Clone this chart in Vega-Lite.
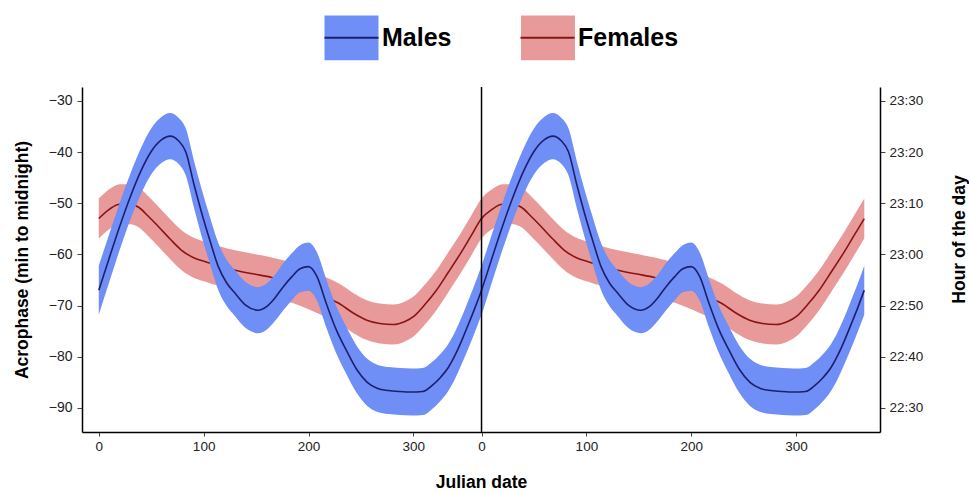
{
  "$schema": "https://vega.github.io/schema/vega-lite/v6.json",
  "width": 798,
  "height": 345,
  "autosize": {"type": "none"},
  "padding": {"left": 82, "top": 87, "right": 89, "bottom": 60},
  "background": "white",
  "config": {
    "view": {"stroke": null},
    "font": "Liberation Sans",
    "axis": {"grid": false, "domainColor": "black", "domainWidth": 1.5, "tickColor": "#444", "labelColor": "#222", "labelFont": "Liberation Sans", "titleFont": "Liberation Sans", "titleFontWeight": "bold", "titleFontSize": 17.5, "titleColor": "black"}
  },
  "datasets": {
    "curves": [
      {"sex": "Males", "series": "Males", "day": 0, "fit": -67.0, "lo": -71.8, "hi": -62.2},
      {"sex": "Males", "series": "Males", "day": 10, "fit": -60.7, "lo": -65.4, "hi": -56.0},
      {"sex": "Males", "series": "Males", "day": 20, "fit": -54.5, "lo": -59.1, "hi": -49.9},
      {"sex": "Males", "series": "Males", "day": 30, "fit": -48.8, "lo": -53.3, "hi": -44.3},
      {"sex": "Males", "series": "Males", "day": 40, "fit": -43.8, "lo": -48.3, "hi": -39.3},
      {"sex": "Males", "series": "Males", "day": 50, "fit": -39.9, "lo": -44.4, "hi": -35.4},
      {"sex": "Males", "series": "Males", "day": 60, "fit": -37.6, "lo": -42.1, "hi": -33.1},
      {"sex": "Males", "series": "Males", "day": 68, "fit": -36.9, "lo": -41.4, "hi": -32.4},
      {"sex": "Males", "series": "Males", "day": 76, "fit": -37.8, "lo": -42.3, "hi": -33.3},
      {"sex": "Males", "series": "Males", "day": 83, "fit": -40.0, "lo": -44.6, "hi": -35.4},
      {"sex": "Males", "series": "Males", "day": 91, "fit": -46.5, "lo": -51.1, "hi": -41.9},
      {"sex": "Males", "series": "Males", "day": 98, "fit": -51.8, "lo": -56.4, "hi": -47.2},
      {"sex": "Males", "series": "Males", "day": 106, "fit": -57.3, "lo": -61.9, "hi": -52.7},
      {"sex": "Males", "series": "Males", "day": 114, "fit": -62.4, "lo": -67.0, "hi": -57.8},
      {"sex": "Males", "series": "Males", "day": 122, "fit": -65.6, "lo": -70.1, "hi": -61.1},
      {"sex": "Males", "series": "Males", "day": 130, "fit": -67.6, "lo": -72.1, "hi": -63.1},
      {"sex": "Males", "series": "Males", "day": 140, "fit": -69.9, "lo": -74.4, "hi": -65.4},
      {"sex": "Males", "series": "Males", "day": 152, "fit": -70.9, "lo": -75.4, "hi": -66.4},
      {"sex": "Males", "series": "Males", "day": 160, "fit": -70.2, "lo": -74.7, "hi": -65.7},
      {"sex": "Males", "series": "Males", "day": 168, "fit": -68.5, "lo": -73.0, "hi": -64.0},
      {"sex": "Males", "series": "Males", "day": 176, "fit": -66.3, "lo": -70.9, "hi": -61.7},
      {"sex": "Males", "series": "Males", "day": 184, "fit": -64.4, "lo": -69.0, "hi": -59.8},
      {"sex": "Males", "series": "Males", "day": 192, "fit": -62.8, "lo": -67.4, "hi": -58.2},
      {"sex": "Males", "series": "Males", "day": 200, "fit": -62.4, "lo": -67.1, "hi": -57.7},
      {"sex": "Males", "series": "Males", "day": 208, "fit": -64.3, "lo": -69.0, "hi": -59.6},
      {"sex": "Males", "series": "Males", "day": 217, "fit": -69.6, "lo": -74.3, "hi": -64.9},
      {"sex": "Males", "series": "Males", "day": 226, "fit": -74.5, "lo": -79.1, "hi": -69.9},
      {"sex": "Males", "series": "Males", "day": 236, "fit": -78.7, "lo": -83.3, "hi": -74.1},
      {"sex": "Males", "series": "Males", "day": 246, "fit": -82.5, "lo": -87.1, "hi": -77.9},
      {"sex": "Males", "series": "Males", "day": 256, "fit": -85.0, "lo": -89.6, "hi": -80.4},
      {"sex": "Males", "series": "Males", "day": 266, "fit": -86.2, "lo": -90.8, "hi": -81.6},
      {"sex": "Males", "series": "Males", "day": 276, "fit": -86.6, "lo": -91.2, "hi": -82.0},
      {"sex": "Males", "series": "Males", "day": 287, "fit": -86.8, "lo": -91.4, "hi": -82.2},
      {"sex": "Males", "series": "Males", "day": 298, "fit": -86.9, "lo": -91.5, "hi": -82.3},
      {"sex": "Males", "series": "Males", "day": 309, "fit": -86.8, "lo": -91.4, "hi": -82.2},
      {"sex": "Males", "series": "Males", "day": 318, "fit": -85.6, "lo": -90.2, "hi": -81.0},
      {"sex": "Males", "series": "Males", "day": 326, "fit": -84.0, "lo": -88.6, "hi": -79.4},
      {"sex": "Males", "series": "Males", "day": 333, "fit": -82.2, "lo": -86.8, "hi": -77.6},
      {"sex": "Males", "series": "Males", "day": 340, "fit": -79.6, "lo": -84.2, "hi": -75.0},
      {"sex": "Males", "series": "Males", "day": 347, "fit": -76.4, "lo": -81.0, "hi": -71.8},
      {"sex": "Males", "series": "Males", "day": 353, "fit": -73.4, "lo": -78.1, "hi": -68.7},
      {"sex": "Males", "series": "Males", "day": 359, "fit": -70.3, "lo": -75.0, "hi": -65.6},
      {"sex": "Males", "series": "Males", "day": 365, "fit": -67.0, "lo": -71.8, "hi": -62.2},
      {"sex": "Males", "series": "Males", "day": 375, "fit": -60.7, "lo": -65.4, "hi": -56.0},
      {"sex": "Males", "series": "Males", "day": 385, "fit": -54.5, "lo": -59.1, "hi": -49.9},
      {"sex": "Males", "series": "Males", "day": 395, "fit": -48.8, "lo": -53.3, "hi": -44.3},
      {"sex": "Males", "series": "Males", "day": 405, "fit": -43.8, "lo": -48.3, "hi": -39.3},
      {"sex": "Males", "series": "Males", "day": 415, "fit": -39.9, "lo": -44.4, "hi": -35.4},
      {"sex": "Males", "series": "Males", "day": 425, "fit": -37.6, "lo": -42.1, "hi": -33.1},
      {"sex": "Males", "series": "Males", "day": 433, "fit": -36.9, "lo": -41.4, "hi": -32.4},
      {"sex": "Males", "series": "Males", "day": 441, "fit": -37.8, "lo": -42.3, "hi": -33.3},
      {"sex": "Males", "series": "Males", "day": 448, "fit": -40.0, "lo": -44.6, "hi": -35.4},
      {"sex": "Males", "series": "Males", "day": 456, "fit": -46.5, "lo": -51.1, "hi": -41.9},
      {"sex": "Males", "series": "Males", "day": 463, "fit": -51.8, "lo": -56.4, "hi": -47.2},
      {"sex": "Males", "series": "Males", "day": 471, "fit": -57.3, "lo": -61.9, "hi": -52.7},
      {"sex": "Males", "series": "Males", "day": 479, "fit": -62.4, "lo": -67.0, "hi": -57.8},
      {"sex": "Males", "series": "Males", "day": 487, "fit": -65.6, "lo": -70.1, "hi": -61.1},
      {"sex": "Males", "series": "Males", "day": 495, "fit": -67.6, "lo": -72.1, "hi": -63.1},
      {"sex": "Males", "series": "Males", "day": 505, "fit": -69.9, "lo": -74.4, "hi": -65.4},
      {"sex": "Males", "series": "Males", "day": 517, "fit": -70.9, "lo": -75.4, "hi": -66.4},
      {"sex": "Males", "series": "Males", "day": 525, "fit": -70.2, "lo": -74.7, "hi": -65.7},
      {"sex": "Males", "series": "Males", "day": 533, "fit": -68.5, "lo": -73.0, "hi": -64.0},
      {"sex": "Males", "series": "Males", "day": 541, "fit": -66.3, "lo": -70.9, "hi": -61.7},
      {"sex": "Males", "series": "Males", "day": 549, "fit": -64.4, "lo": -69.0, "hi": -59.8},
      {"sex": "Males", "series": "Males", "day": 557, "fit": -62.8, "lo": -67.4, "hi": -58.2},
      {"sex": "Males", "series": "Males", "day": 565, "fit": -62.4, "lo": -67.1, "hi": -57.7},
      {"sex": "Males", "series": "Males", "day": 573, "fit": -64.3, "lo": -69.0, "hi": -59.6},
      {"sex": "Males", "series": "Males", "day": 582, "fit": -69.6, "lo": -74.3, "hi": -64.9},
      {"sex": "Males", "series": "Males", "day": 591, "fit": -74.5, "lo": -79.1, "hi": -69.9},
      {"sex": "Males", "series": "Males", "day": 601, "fit": -78.7, "lo": -83.3, "hi": -74.1},
      {"sex": "Males", "series": "Males", "day": 611, "fit": -82.5, "lo": -87.1, "hi": -77.9},
      {"sex": "Males", "series": "Males", "day": 621, "fit": -85.0, "lo": -89.6, "hi": -80.4},
      {"sex": "Males", "series": "Males", "day": 631, "fit": -86.2, "lo": -90.8, "hi": -81.6},
      {"sex": "Males", "series": "Males", "day": 641, "fit": -86.6, "lo": -91.2, "hi": -82.0},
      {"sex": "Males", "series": "Males", "day": 652, "fit": -86.8, "lo": -91.4, "hi": -82.2},
      {"sex": "Males", "series": "Males", "day": 663, "fit": -86.9, "lo": -91.5, "hi": -82.3},
      {"sex": "Males", "series": "Males", "day": 674, "fit": -86.8, "lo": -91.4, "hi": -82.2},
      {"sex": "Males", "series": "Males", "day": 683, "fit": -85.6, "lo": -90.2, "hi": -81.0},
      {"sex": "Males", "series": "Males", "day": 691, "fit": -84.0, "lo": -88.6, "hi": -79.4},
      {"sex": "Males", "series": "Males", "day": 698, "fit": -82.2, "lo": -86.8, "hi": -77.6},
      {"sex": "Males", "series": "Males", "day": 705, "fit": -79.6, "lo": -84.2, "hi": -75.0},
      {"sex": "Males", "series": "Males", "day": 712, "fit": -76.4, "lo": -81.0, "hi": -71.8},
      {"sex": "Males", "series": "Males", "day": 718, "fit": -73.4, "lo": -78.1, "hi": -68.7},
      {"sex": "Males", "series": "Males", "day": 724, "fit": -70.3, "lo": -75.0, "hi": -65.6},
      {"sex": "Males", "series": "Males", "day": 730, "fit": -67.0, "lo": -71.8, "hi": -62.2},

      {"sex": "Females", "series": "Females", "day": 0, "fit": -53.0, "lo": -56.9, "hi": -49.1},
      {"sex": "Females", "series": "Females", "day": 10, "fit": -51.2, "lo": -55.1, "hi": -47.3},
      {"sex": "Females", "series": "Females", "day": 20, "fit": -50.2, "lo": -54.1, "hi": -46.3},
      {"sex": "Females", "series": "Females", "day": 30, "fit": -50.2, "lo": -54.1, "hi": -46.3},
      {"sex": "Females", "series": "Females", "day": 38, "fit": -50.8, "lo": -54.7, "hi": -46.9},
      {"sex": "Females", "series": "Females", "day": 47, "fit": -52.5, "lo": -56.4, "hi": -48.6},
      {"sex": "Females", "series": "Females", "day": 57, "fit": -54.6, "lo": -58.5, "hi": -50.7},
      {"sex": "Females", "series": "Females", "day": 68, "fit": -57.0, "lo": -60.9, "hi": -53.1},
      {"sex": "Females", "series": "Females", "day": 79, "fit": -59.2, "lo": -63.1, "hi": -55.3},
      {"sex": "Females", "series": "Females", "day": 90, "fit": -60.6, "lo": -64.5, "hi": -56.7},
      {"sex": "Females", "series": "Females", "day": 101, "fit": -61.4, "lo": -65.3, "hi": -57.5},
      {"sex": "Females", "series": "Females", "day": 115, "fit": -62.3, "lo": -66.2, "hi": -58.4},
      {"sex": "Females", "series": "Females", "day": 130, "fit": -63.1, "lo": -67.0, "hi": -59.2},
      {"sex": "Females", "series": "Females", "day": 147, "fit": -63.8, "lo": -67.7, "hi": -59.9},
      {"sex": "Females", "series": "Females", "day": 165, "fit": -64.5, "lo": -68.4, "hi": -60.6},
      {"sex": "Females", "series": "Females", "day": 185, "fit": -65.6, "lo": -69.5, "hi": -61.7},
      {"sex": "Females", "series": "Females", "day": 200, "fit": -66.8, "lo": -70.7, "hi": -62.9},
      {"sex": "Females", "series": "Females", "day": 215, "fit": -68.2, "lo": -72.1, "hi": -64.3},
      {"sex": "Females", "series": "Females", "day": 230, "fit": -69.7, "lo": -73.6, "hi": -65.8},
      {"sex": "Females", "series": "Females", "day": 243, "fit": -71.5, "lo": -75.4, "hi": -67.6},
      {"sex": "Females", "series": "Females", "day": 255, "fit": -72.8, "lo": -76.7, "hi": -68.9},
      {"sex": "Females", "series": "Females", "day": 268, "fit": -73.5, "lo": -77.4, "hi": -69.6},
      {"sex": "Females", "series": "Females", "day": 281, "fit": -73.7, "lo": -77.6, "hi": -69.8},
      {"sex": "Females", "series": "Females", "day": 292, "fit": -73.1, "lo": -77.0, "hi": -69.2},
      {"sex": "Females", "series": "Females", "day": 301, "fit": -72.0, "lo": -75.9, "hi": -68.1},
      {"sex": "Females", "series": "Females", "day": 311, "fit": -69.8, "lo": -73.7, "hi": -65.9},
      {"sex": "Females", "series": "Females", "day": 322, "fit": -67.0, "lo": -70.9, "hi": -63.1},
      {"sex": "Females", "series": "Females", "day": 333, "fit": -63.6, "lo": -67.5, "hi": -59.7},
      {"sex": "Females", "series": "Females", "day": 345, "fit": -59.8, "lo": -63.7, "hi": -55.9},
      {"sex": "Females", "series": "Females", "day": 355, "fit": -56.4, "lo": -60.3, "hi": -52.5},
      {"sex": "Females", "series": "Females", "day": 365, "fit": -53.0, "lo": -56.9, "hi": -49.1},
      {"sex": "Females", "series": "Females", "day": 375, "fit": -51.2, "lo": -55.1, "hi": -47.3},
      {"sex": "Females", "series": "Females", "day": 385, "fit": -50.2, "lo": -54.1, "hi": -46.3},
      {"sex": "Females", "series": "Females", "day": 395, "fit": -50.2, "lo": -54.1, "hi": -46.3},
      {"sex": "Females", "series": "Females", "day": 403, "fit": -50.8, "lo": -54.7, "hi": -46.9},
      {"sex": "Females", "series": "Females", "day": 412, "fit": -52.5, "lo": -56.4, "hi": -48.6},
      {"sex": "Females", "series": "Females", "day": 422, "fit": -54.6, "lo": -58.5, "hi": -50.7},
      {"sex": "Females", "series": "Females", "day": 433, "fit": -57.0, "lo": -60.9, "hi": -53.1},
      {"sex": "Females", "series": "Females", "day": 444, "fit": -59.2, "lo": -63.1, "hi": -55.3},
      {"sex": "Females", "series": "Females", "day": 455, "fit": -60.6, "lo": -64.5, "hi": -56.7},
      {"sex": "Females", "series": "Females", "day": 466, "fit": -61.4, "lo": -65.3, "hi": -57.5},
      {"sex": "Females", "series": "Females", "day": 480, "fit": -62.3, "lo": -66.2, "hi": -58.4},
      {"sex": "Females", "series": "Females", "day": 495, "fit": -63.1, "lo": -67.0, "hi": -59.2},
      {"sex": "Females", "series": "Females", "day": 512, "fit": -63.8, "lo": -67.7, "hi": -59.9},
      {"sex": "Females", "series": "Females", "day": 530, "fit": -64.5, "lo": -68.4, "hi": -60.6},
      {"sex": "Females", "series": "Females", "day": 550, "fit": -65.6, "lo": -69.5, "hi": -61.7},
      {"sex": "Females", "series": "Females", "day": 565, "fit": -66.8, "lo": -70.7, "hi": -62.9},
      {"sex": "Females", "series": "Females", "day": 580, "fit": -68.2, "lo": -72.1, "hi": -64.3},
      {"sex": "Females", "series": "Females", "day": 595, "fit": -69.7, "lo": -73.6, "hi": -65.8},
      {"sex": "Females", "series": "Females", "day": 608, "fit": -71.5, "lo": -75.4, "hi": -67.6},
      {"sex": "Females", "series": "Females", "day": 620, "fit": -72.8, "lo": -76.7, "hi": -68.9},
      {"sex": "Females", "series": "Females", "day": 633, "fit": -73.5, "lo": -77.4, "hi": -69.6},
      {"sex": "Females", "series": "Females", "day": 646, "fit": -73.7, "lo": -77.6, "hi": -69.8},
      {"sex": "Females", "series": "Females", "day": 657, "fit": -73.1, "lo": -77.0, "hi": -69.2},
      {"sex": "Females", "series": "Females", "day": 666, "fit": -72.0, "lo": -75.9, "hi": -68.1},
      {"sex": "Females", "series": "Females", "day": 676, "fit": -69.8, "lo": -73.7, "hi": -65.9},
      {"sex": "Females", "series": "Females", "day": 687, "fit": -67.0, "lo": -70.9, "hi": -63.1},
      {"sex": "Females", "series": "Females", "day": 698, "fit": -63.6, "lo": -67.5, "hi": -59.7},
      {"sex": "Females", "series": "Females", "day": 710, "fit": -59.8, "lo": -63.7, "hi": -55.9},
      {"sex": "Females", "series": "Females", "day": 720, "fit": -56.4, "lo": -60.3, "hi": -52.5},
      {"sex": "Females", "series": "Females", "day": 730, "fit": -53.0, "lo": -56.9, "hi": -49.1}
    ],
    "divider": [{"day": 365}]
  },
  "data": {"name": "curves"},
  "encoding": {
    "x": {
      "field": "day", "type": "quantitative",
      "scale": {"domain": [-16, 745], "nice": false, "zero": false},
      "axis": {"title": "Julian date", "values": [0, 100, 200, 300, 365, 465, 565, 665], "labelExpr": "datum.value % 365", "labelFontSize": 13.5, "tickSize": 4, "labelPadding": 3, "titlePadding": 21}
    }
  },
  "layer": [
    {
      "encoding": {
        "y": {
          "type": "quantitative",
          "scale": {"domain": [-94.7, -27.3], "nice": false, "zero": false},
          "axis": {"orient": "left", "title": "Acrophase (min to midnight)", "values": [-90, -80, -70, -60, -50, -40, -30], "labelFontSize": 14, "tickSize": 5, "labelPadding": 5, "titlePadding": 17}
        }
      },
      "layer": [
        {
          "transform": [{"filter": "datum.sex === 'Females'"}],
          "mark": {"type": "area", "interpolate": "monotone"},
          "encoding": {
            "y": {"field": "lo"}, "y2": {"field": "hi"},
            "fill": {"field": "sex", "type": "nominal", "scale": {"domain": ["Males", "Females"], "range": ["#6f8ff6", "#e89a9a"]},
              "legend": {"orient": "none", "legendX": 241, "legendY": -78, "direction": "horizontal", "title": null, "symbolType": "M-1,-0.83H1V0.83H-1Z", "symbolSize": 2916, "symbolStrokeWidth": 2.2, "symbolStrokeColor": "transparent", "symbolOpacity": 1, "labelFontSize": 25, "labelFontWeight": "bold", "labelFont": "Liberation Sans", "labelExpr": "''", "labelOffset": 2, "columnPadding": 133.5, "zindex": 1}}
          }
        },
        {
          "transform": [{"filter": "datum.sex === 'Females'"}],
          "mark": {"type": "line", "interpolate": "monotone", "strokeWidth": 1.6},
          "encoding": {
            "y": {"field": "fit"},
            "stroke": {"field": "series", "type": "nominal", "sort": ["Males", "Females"], "scale": {"range": ["#1c1f6e", "#8a1414"]},
              "legend": {"orient": "none", "legendX": 241, "legendY": -78, "direction": "horizontal", "title": null, "symbolType": "stroke", "symbolSize": 2916, "symbolStrokeWidth": 2.2, "symbolOpacity": 1, "labelFontSize": 25, "labelFontWeight": "bold", "labelFont": "Liberation Sans", "labelColor": "black", "labelOffset": 2, "columnPadding": 64, "zindex": 2}}
          }
        },
        {
          "transform": [{"filter": "datum.sex === 'Males'"}],
          "mark": {"type": "area", "interpolate": "monotone"},
          "encoding": {
            "y": {"field": "lo"}, "y2": {"field": "hi"},
            "fill": {"field": "sex", "type": "nominal"}
          }
        },
        {
          "transform": [{"filter": "datum.sex === 'Males'"}],
          "mark": {"type": "line", "interpolate": "monotone", "strokeWidth": 1.6},
          "encoding": {
            "y": {"field": "fit"},
            "stroke": {"field": "series", "type": "nominal", "sort": ["Males", "Females"]}
          }
        },
        {
          "data": {"name": "divider"},
          "mark": {"type": "rule", "color": "black", "strokeWidth": 1.5},
          "encoding": {"x": {"field": "day", "type": "quantitative"}}
        }
      ]
    },
    {
      "transform": [{"filter": "datum.sex === 'Males'"}],
      "mark": {"type": "line", "opacity": 0},
      "encoding": {
        "y": {
          "field": "fit", "type": "quantitative",
          "scale": {"domain": [-94.7, -27.3], "nice": false, "zero": false},
          "axis": {"orient": "right", "title": "Hour of the day", "values": [-90, -80, -70, -60, -50, -40, -30], "labelExpr": "floor((1440 + datum.value) / 60) + ':' + (((1440 + datum.value) % 60) == 0 ? '00' : ((1440 + datum.value) % 60))", "labelFontSize": 13.5, "tickSize": 5, "labelPadding": 4, "titleAngle": 270, "titlePadding": 46, "titleY": 152}
        }
      }
    }
  ],
  "resolve": {"scale": {"y": "independent"}}
}
